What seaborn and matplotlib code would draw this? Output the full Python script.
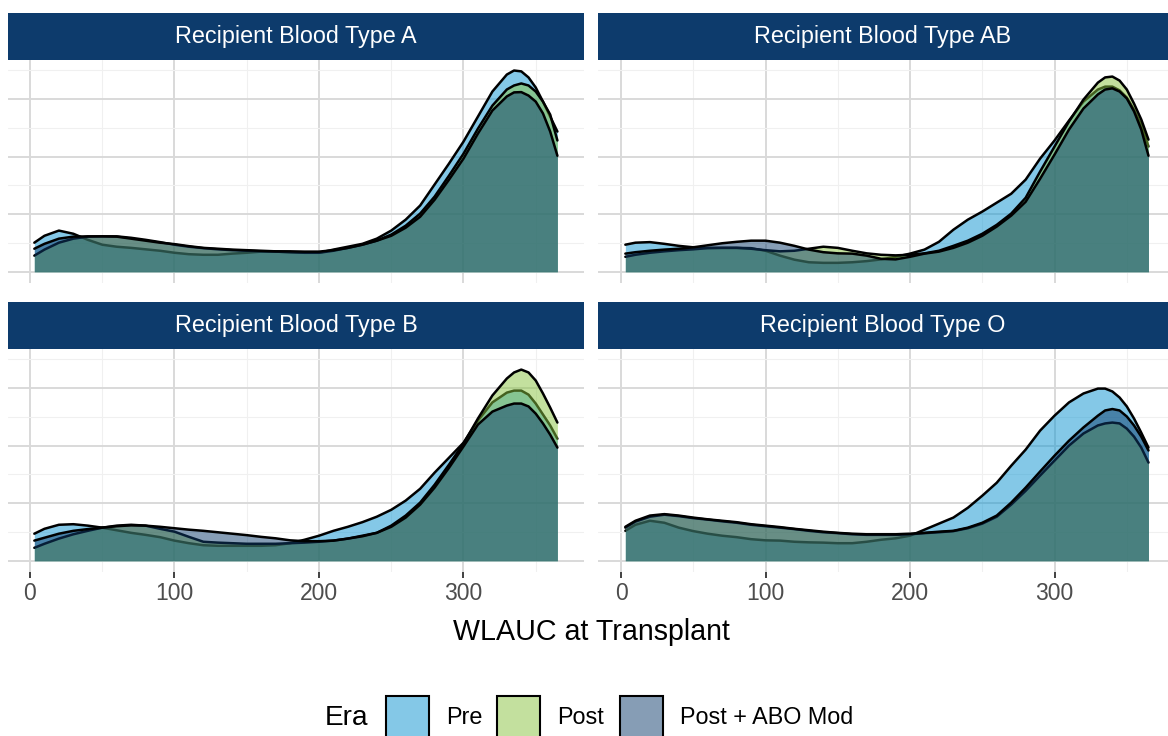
import matplotlib
matplotlib.use("Agg")
import matplotlib.pyplot as plt
from matplotlib.colors import to_rgba
from matplotlib.patches import Rectangle
import pandas as pd
import seaborn as sns

# WLAUC grid at which the density curves are tabulated
wlauc = [3, 10, 20, 30, 40, 50, 60, 70, 80, 90, 100, 110, 120, 130, 140, 150,
         160, 170, 180, 190, 200, 210, 220, 230, 240, 250, 260, 270, 280, 290,
         300, 310, 320, 330, 335, 340, 345, 350, 355, 360, 365]

eras = ["Pre", "Post", "Post + ABO Mod"]
blood_types = ["A", "AB", "B", "O"]

# Kernel density estimates (x 1e-3) of WLAUC at transplant
dens_A_pre = [1.01, 1.25, 1.43, 1.32, 1.11, 0.94, 0.87, 0.83, 0.78, 0.73, 0.66, 0.61, 0.59, 0.59,
              0.63, 0.66, 0.70, 0.70, 0.68, 0.66, 0.66, 0.77, 0.87, 0.97, 1.15, 1.43, 1.81, 2.30,
              3.03, 3.76, 4.52, 5.39, 6.26, 6.85, 6.99, 6.96, 6.75, 6.40, 5.91, 5.39, 4.87]
dens_A_post = [0.56, 0.77, 1.01, 1.15, 1.22, 1.23, 1.23, 1.18, 1.11, 1.03, 0.94, 0.87, 0.82, 0.78,
               0.75, 0.73, 0.71, 0.70, 0.68, 0.66, 0.66, 0.73, 0.83, 0.94, 1.08, 1.29, 1.60, 2.02,
               2.61, 3.34, 4.10, 4.97, 5.77, 6.33, 6.47, 6.54, 6.47, 6.26, 5.91, 5.46, 4.56]
dens_A_abo = [0.80, 0.97, 1.15, 1.22, 1.23, 1.23, 1.22, 1.15, 1.08, 1.01, 0.96, 0.89, 0.83, 0.80,
              0.77, 0.75, 0.73, 0.71, 0.71, 0.70, 0.70, 0.75, 0.83, 0.94, 1.08, 1.25, 1.53, 1.91,
              2.50, 3.20, 3.93, 4.80, 5.60, 6.09, 6.23, 6.24, 6.12, 5.91, 5.50, 4.87, 4.03]

dens_AB_pre = [0.94, 1.01, 1.03, 0.97, 0.90, 0.85, 0.83, 0.83, 0.83, 0.82, 0.73, 0.56, 0.42, 0.33,
               0.31, 0.31, 0.33, 0.37, 0.43, 0.52, 0.63, 0.77, 1.04, 1.46, 1.81, 2.09, 2.40, 2.71,
               3.20, 3.93, 4.56, 5.25, 5.91, 6.33, 6.43, 6.43, 6.30, 6.05, 5.63, 5.11, 4.35]
dens_AB_post = [0.52, 0.59, 0.66, 0.71, 0.75, 0.78, 0.82, 0.83, 0.83, 0.80, 0.75, 0.71, 0.73, 0.80,
                0.87, 0.83, 0.73, 0.64, 0.59, 0.57, 0.59, 0.64, 0.73, 0.90, 1.08, 1.32, 1.63, 2.02,
                2.57, 3.48, 4.35, 5.22, 5.98, 6.57, 6.75, 6.78, 6.64, 6.33, 5.84, 5.29, 4.59]
dens_AB_abo = [0.63, 0.68, 0.73, 0.77, 0.80, 0.85, 0.92, 0.99, 1.04, 1.08, 1.08, 1.01, 0.90, 0.77,
               0.68, 0.64, 0.63, 0.56, 0.45, 0.43, 0.52, 0.63, 0.70, 0.83, 1.01, 1.25, 1.57, 1.95,
               2.43, 3.23, 4.07, 4.94, 5.67, 6.16, 6.33, 6.37, 6.26, 6.02, 5.57, 4.94, 4.03]

dens_B_pre = [0.94, 1.11, 1.25, 1.27, 1.22, 1.15, 1.06, 0.97, 0.90, 0.82, 0.70, 0.61, 0.54, 0.52,
              0.52, 0.52, 0.52, 0.54, 0.61, 0.73, 0.87, 1.04, 1.18, 1.34, 1.53, 1.77, 2.09, 2.50,
              3.06, 3.58, 4.10, 4.87, 5.50, 5.84, 5.91, 5.91, 5.77, 5.46, 5.08, 4.70, 4.24]
dens_B_post = [0.45, 0.59, 0.77, 0.92, 1.04, 1.15, 1.22, 1.25, 1.22, 1.11, 1.01, 0.83, 0.66, 0.63,
               0.61, 0.59, 0.59, 0.59, 0.61, 0.63, 0.66, 0.70, 0.77, 0.87, 0.97, 1.22, 1.57, 2.02,
               2.64, 3.34, 4.07, 4.94, 5.74, 6.33, 6.54, 6.64, 6.54, 6.26, 5.81, 5.32, 4.80]
dens_B_abo = [0.70, 0.80, 0.94, 1.04, 1.10, 1.15, 1.20, 1.23, 1.22, 1.18, 1.13, 1.08, 1.04, 0.99,
              0.94, 0.89, 0.83, 0.78, 0.71, 0.68, 0.68, 0.70, 0.77, 0.85, 0.97, 1.18, 1.50, 1.95,
              2.54, 3.23, 3.97, 4.73, 5.18, 5.39, 5.46, 5.46, 5.36, 5.11, 4.77, 4.38, 3.93]

dens_O_pre = [1.04, 1.25, 1.39, 1.32, 1.15, 1.03, 0.94, 0.87, 0.82, 0.75, 0.71, 0.70, 0.66, 0.64,
              0.63, 0.61, 0.61, 0.66, 0.73, 0.78, 0.87, 1.08, 1.29, 1.50, 1.84, 2.26, 2.71, 3.30,
              3.86, 4.52, 5.04, 5.50, 5.81, 5.98, 5.98, 5.88, 5.67, 5.36, 4.94, 4.45, 3.93]
dens_O_post = [1.15, 1.36, 1.53, 1.60, 1.55, 1.48, 1.43, 1.37, 1.32, 1.25, 1.20, 1.15, 1.10, 1.04,
               0.99, 0.96, 0.92, 0.90, 0.90, 0.90, 0.92, 0.96, 0.99, 1.03, 1.13, 1.29, 1.53, 1.95,
               2.43, 2.96, 3.48, 4.00, 4.42, 4.70, 4.77, 4.80, 4.77, 4.59, 4.31, 3.93, 3.41]
dens_O_abo = [1.18, 1.39, 1.57, 1.62, 1.57, 1.50, 1.44, 1.39, 1.34, 1.27, 1.22, 1.17, 1.11, 1.06,
              1.01, 0.97, 0.94, 0.92, 0.92, 0.92, 0.94, 0.97, 1.01, 1.04, 1.15, 1.32, 1.57, 2.02,
              2.54, 3.10, 3.65, 4.17, 4.63, 5.04, 5.22, 5.27, 5.22, 5.01, 4.70, 4.31, 3.83]

curves = {
    "A": [dens_A_pre, dens_A_post, dens_A_abo],
    "AB": [dens_AB_pre, dens_AB_post, dens_AB_abo],
    "B": [dens_B_pre, dens_B_post, dens_B_abo],
    "O": [dens_O_pre, dens_O_post, dens_O_abo],
}

rows = []
for bt in blood_types:
    for era, dens in zip(eras, curves[bt]):
        for x, d in zip(wlauc, dens):
            rows.append({"blood_type": bt, "era": era, "wlauc": x, "density": d})
df = pd.DataFrame(rows)

era_colors = {"Pre": "#0A93D1", "Post": "#88C33F", "Post + ABO Mod": "#0E3D6D"}
fill_alpha = 0.5
strip_color = "#0D3B6C"

sns.set_theme(style="white")
plt.rcParams["font.family"] = ["Liberation Sans", "DejaVu Sans"]

W, H = 1168, 736
fig = plt.figure(figsize=(W / 100, H / 100), dpi=100)


def px_axes(left, top, width, height, **kw):
    return fig.add_axes([left / W, 1 - (top + height) / H, width / W, height / H], **kw)


# panel geometry: (left, top, width, xlim)
panels = {
    "A": (8, 60, 576, (-15.22, 383.4)),
    "AB": (598, 60, 570, (-15.92, 378.5)),
    "B": (8, 349, 576, (-15.22, 383.4)),
    "O": (598, 349, 570, (-15.92, 378.5)),
}
panel_h = 223

overlay = px_axes(0, 0, W, H, zorder=10)
overlay.set_xlim(0, W)
overlay.set_ylim(H, 0)
overlay.axis("off")
overlay.patch.set_alpha(0)

for bt in blood_types:
    left, top, width, xlim = panels[bt]
    ax = px_axes(left, top, width, panel_h)
    sub_bt = df[df.blood_type == bt]
    for i, era in enumerate(eras):
        sub = sub_bt[sub_bt.era == era]
        ax.fill_between(sub.wlauc, sub.density, 0, color=era_colors[era],
                        alpha=fill_alpha, lw=0, zorder=2 + 2 * i)
        sns.lineplot(data=sub, x="wlauc", y="density", ax=ax, color="black",
                     lw=1.8, sort=False, estimator=None, legend=False,
                     solid_joinstyle="round", zorder=3 + 2 * i)
    ax.set_xlim(*xlim)
    ax.set_ylim(-0.39, 7.355)
    ax.set_xticks([0, 100, 200, 300])
    ax.set_xticks([50, 150, 250, 350], minor=True)
    ax.set_yticks([0, 2, 4, 6])
    ax.set_yticks([1, 3, 5, 7], minor=True)
    ax.grid(which="major", color="#D9D9D9", lw=1.4)
    ax.grid(which="minor", color="#F0F0F0", lw=0.8)
    ax.set_axisbelow(True)
    for s in ax.spines.values():
        s.set_visible(False)
    ax.set_xlabel("")
    ax.set_ylabel("")
    ax.tick_params(axis="y", which="both", length=0, labelleft=False)
    ax.tick_params(axis="x", which="minor", length=0)
    if top > 100:
        ax.tick_params(axis="x", which="major", length=4.6, width=1.3,
                       color="#333333", labelsize=16.5, labelcolor="#4D4D4D",
                       pad=2.6, bottom=True, labelbottom=True)
    else:
        ax.tick_params(axis="x", which="major", length=0, labelbottom=False)

    # facet strip
    overlay.add_patch(Rectangle((left, top - 47), width, 47, facecolor=strip_color,
                                edgecolor="none"))
    overlay.text(left + width / 2, top - 23.5, f"Recipient Blood Type {bt}",
                 color="white", fontsize=16.8, ha="center", va="center")

# shared x-axis title
overlay.text(591, 632, "WLAUC at Transplant", fontsize=20.6, ha="center", va="center",
             color="black")

# legend
overlay.text(325, 718, "Era", fontsize=20.2, ha="left", va="center", color="black")
key_lefts = [386, 497, 620]
for era, kx in zip(eras, key_lefts):
    overlay.add_patch(Rectangle((kx, 696), 43, 44,
                                facecolor=to_rgba(era_colors[era], fill_alpha),
                                edgecolor="black", lw=1.5))
    overlay.text(kx + 60, 718, era, fontsize=16.8, ha="left", va="center", color="black")

fig.savefig("out.png", dpi=100, facecolor="white")
